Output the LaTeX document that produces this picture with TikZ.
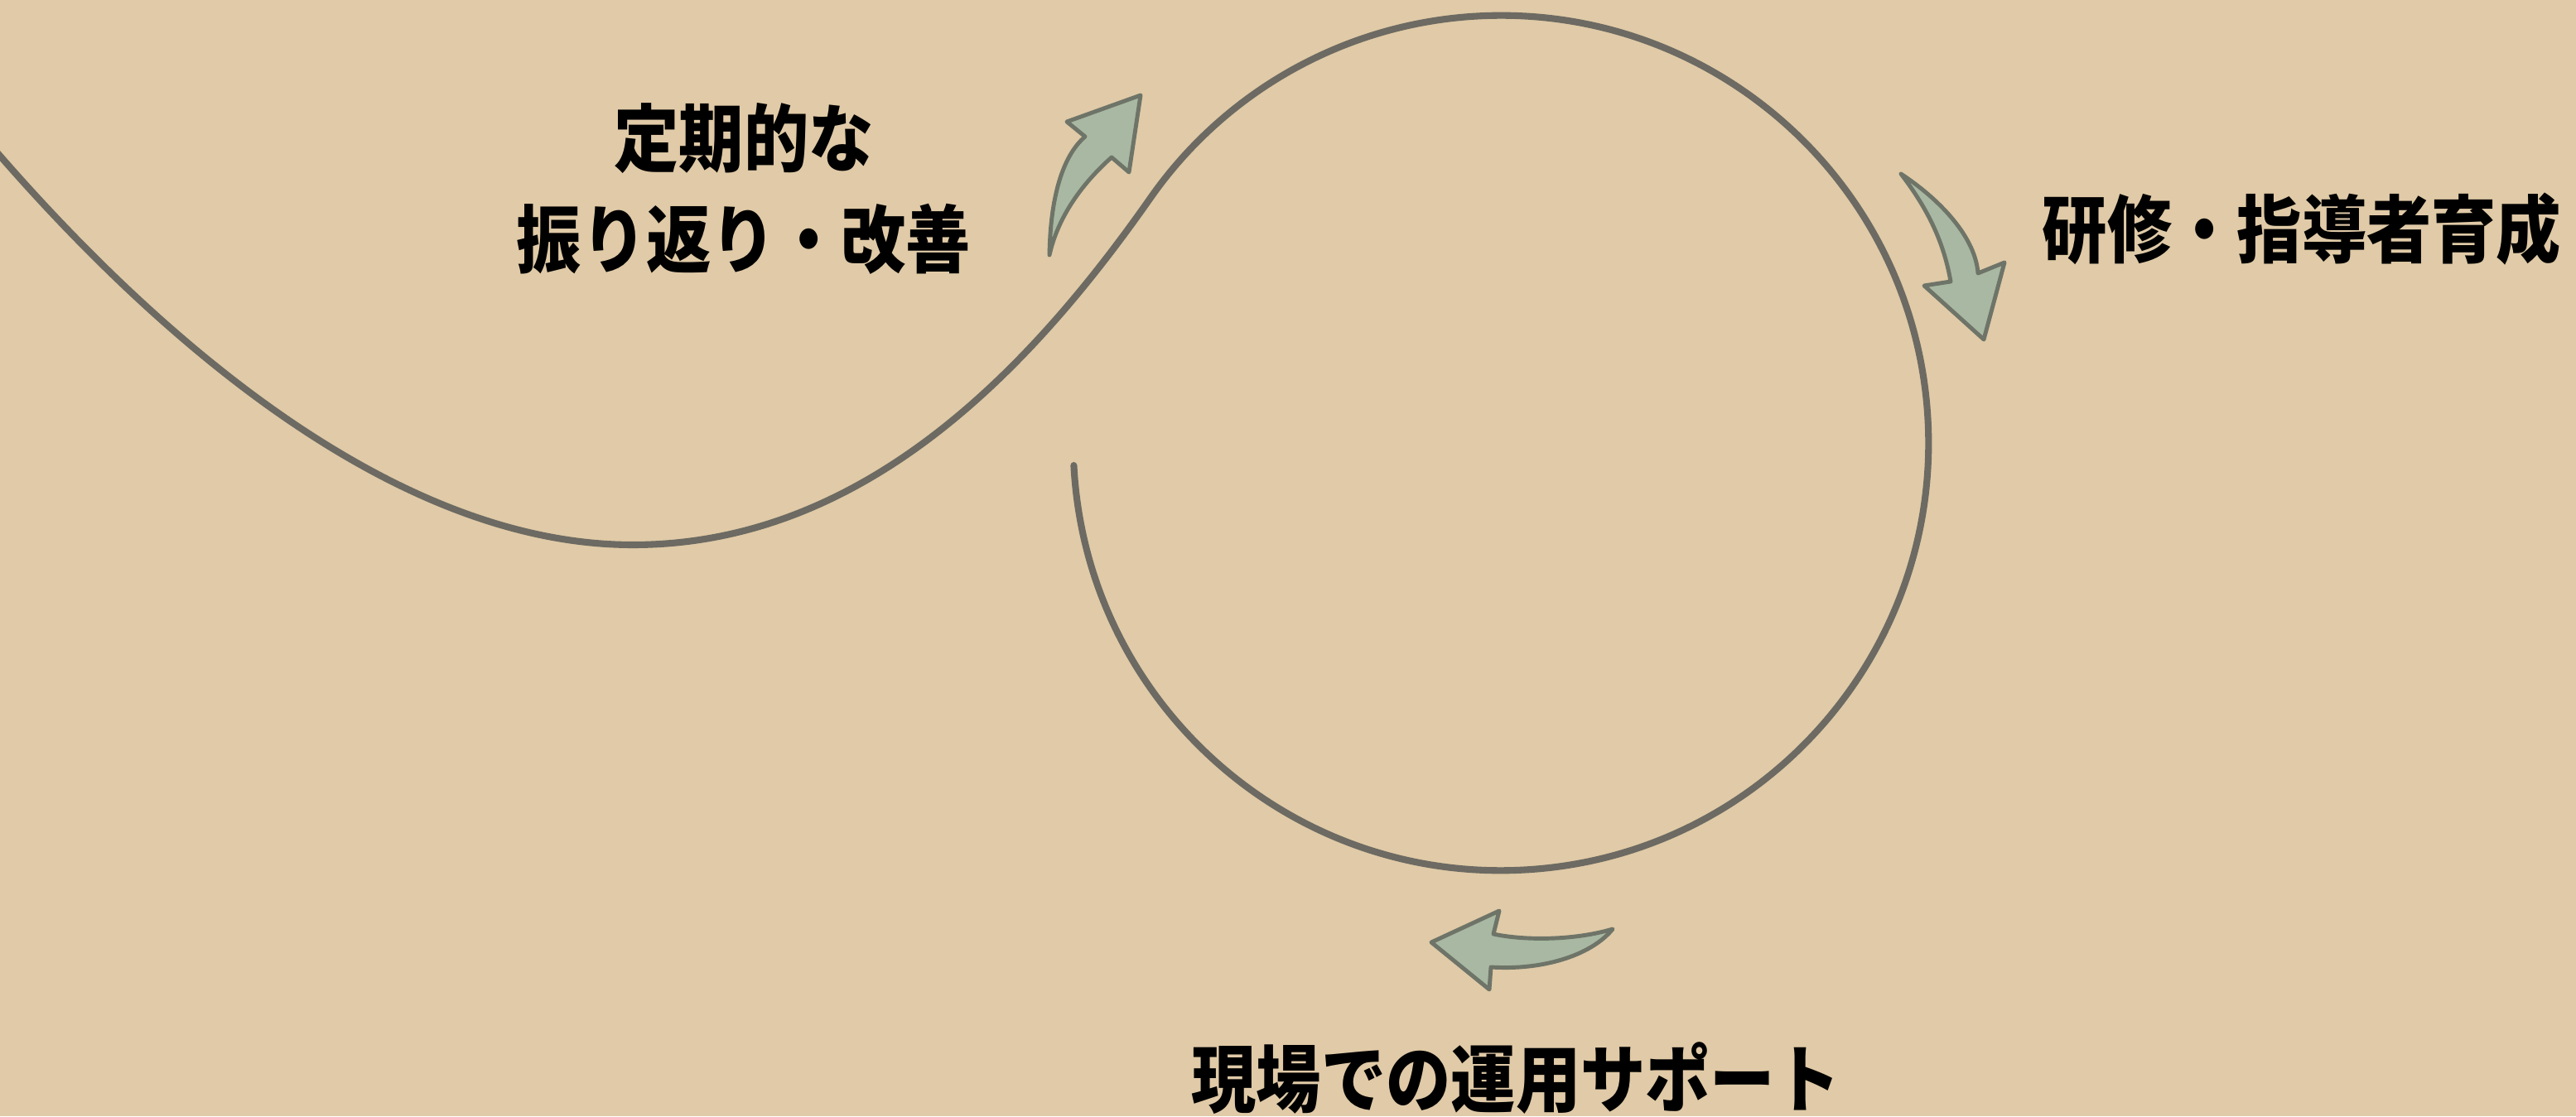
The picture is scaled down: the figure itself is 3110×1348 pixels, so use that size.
\documentclass[tikz,border=0pt]{standalone}
\usepackage{fontspec}
\newfontfamily\jpfont[FakeStretch=0.88]{Noto Sans CJK JP}
\definecolor{paper}{RGB}{224,202,167}
\definecolor{loopgray}{RGB}{108,106,98}
\definecolor{sage}{RGB}{168,184,162}
\definecolor{sageedge}{RGB}{110,116,104}
\begin{document}
\begin{tikzpicture}[x=0.01cm,y=0.01cm,
    loopline/.style={draw=loopgray,line width=2.3pt,line cap=round},
    bentarrow/.style={fill=sage,draw=sageedge,line width=1.4pt,line join=round},
    labeltext/.style={inner sep=0pt,align=center,text=black,font=\jpfont\bfseries\fontsize{25.3}{34.6}\selectfont}]
            \fill[paper] (0,0) rectangle (3110,1348);
            \useasboundingbox (0,0) rectangle (3110,1348);
            \clip (0,0) rectangle (3110,1348);
            \coordinate (hub) at (1812,813);
            \draw[loopline] (hub) ++(183:5.16cm) arc[start angle=183,end angle=505,radius=5.16cm]
                .. controls +(235:2.5cm) and (1044,690) .. (764,690)
                .. controls (464,690) and (170,960) .. (-20,1183);
            \draw[bentarrow] (1267,1040) .. controls (1268,1110) and (1283,1160) .. (1310,1183)
                -- (1288,1201) -- (1377,1233) -- (1363,1140) -- (1342,1158)
                .. controls (1305,1125) and (1277,1085) .. (1267,1040) -- cycle;
            \draw[bentarrow] (2295,1138) .. controls (2345,1105) and (2385,1060) .. (2388,1018)
                -- (2420,1031) -- (2395,938) -- (2323,1003) -- (2355,1008)
                .. controls (2346,1060) and (2324,1100) .. (2295,1138) -- cycle;
            \draw[bentarrow] (1947,226) .. controls (1900,212) and (1840,212) .. (1803,220)
                -- (1810,248) -- (1728,210) -- (1798,153) -- (1800,180)
                .. controls (1860,176) and (1920,193) .. (1947,226) -- cycle;
            \node[labeltext] (review) at (898,1120) {定期的な\\振り返り・改善};
            \node[labeltext] (training) at (2779,1071) {研修・指導者育成};
            \node[labeltext] (support) at (1830,46) {現場での運用サポート};
        \end{tikzpicture}
\end{document}
